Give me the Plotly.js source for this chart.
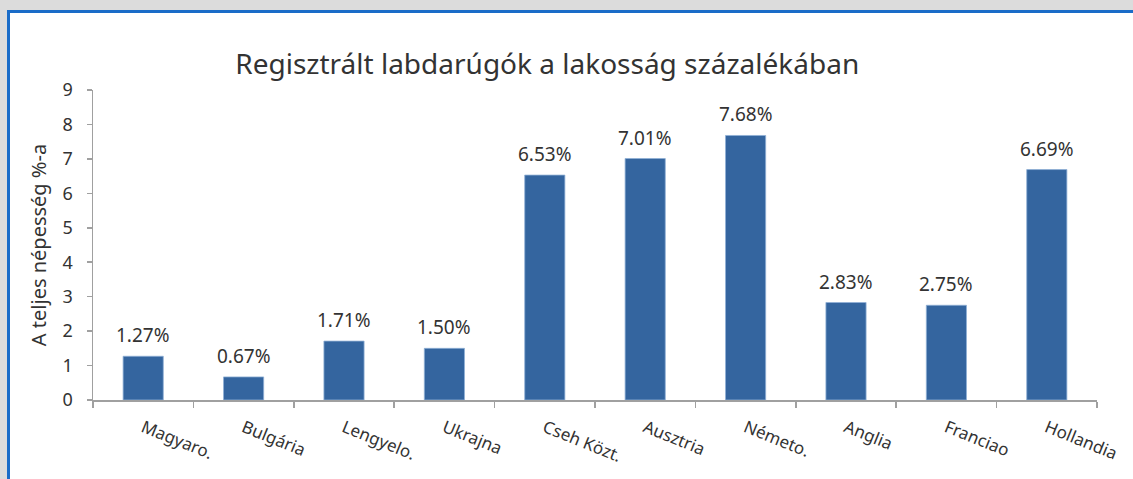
<!DOCTYPE html>
<html>
<head>
<meta charset="utf-8">
<script src="https://cdn.plot.ly/plotly-3.0.1.min.js"></script>
<style>
html,body{margin:0;padding:0;background:#dcdcdc;width:1133px;height:479px;overflow:hidden;}
#frame{position:absolute;left:7px;top:10px;width:1126px;height:469px;background:#fff;border-top:3px solid #1a6cc8;border-left:3px solid #1a6cc8;box-sizing:border-box;}
#chart{position:absolute;left:0;top:0;width:1133px;height:479px;}
</style>
</head>
<body>
<div id="frame"></div>
<div id="chart"></div>
<script>
const categories = ["Magyaro.", "Bulgária", "Lengyelo.", "Ukrajna", "Cseh Közt.", "Ausztria", "Németo.", "Anglia", "Franciao", "Hollandia"];
const values = [1.27, 0.67, 1.71, 1.50, 6.53, 7.01, 7.68, 2.83, 2.75, 6.69];
const valueLabels = values.map(v => v.toFixed(2) + "%");
const yTicks = [0, 1, 2, 3, 4, 5, 6, 7, 8, 9];

const font = "Noto Sans, Open Sans, sans-serif";
const trace = {
  type: "bar",
  x: categories,
  y: values,
  cliponaxis: false,
  marker: {color: "#34659f", line: {color: "#8fb0d6", width: 0.8}},
  hoverinfo: "x+y"
};
const annotations = categories.map((c, i) => ({
  x: c, y: values[i], xref: "x", yref: "y",
  text: valueLabels[i], showarrow: false,
  xanchor: "center", yanchor: "bottom", yshift: 6,
  font: {family: font, size: 19, color: "#333"}
}));
const layout = {
  width: 1133, height: 479,
  paper_bgcolor: "rgba(0,0,0,0)",
  plot_bgcolor: "rgba(0,0,0,0)",
  margin: {l: 93, r: 36, t: 90, b: 79},
  bargap: 0.6,
  showlegend: false,
  annotations: annotations,
  title: {text: "Regisztrált labdarúgók a lakosság százalékában", font: {family: font, size: 28, color: "#333"}, x: 0.483, xanchor: "center", y: 0.865, yanchor: "middle"},
  xaxis: {
    type: "category",
    tickangle: 22,
    tickson: "boundaries",
    ticks: "outside", ticklen: 6, tickcolor: "#a0a0a0", tickwidth: 1.5,
    showline: true, linecolor: "#a0a0a0", linewidth: 1.5,
    showgrid: false, zeroline: false,
    ticklabelstandoff: 10,
    tickfont: {family: font, size: 17, color: "#333"}
  },
  yaxis: {
    range: [0, 9],
    tickvals: yTicks,
    ticktext: yTicks.map(String),
    ticks: "outside", ticklen: 5, tickcolor: "#a0a0a0", tickwidth: 1.5,
    showline: true, linecolor: "#a0a0a0", linewidth: 1.5,
    showgrid: false, zeroline: false,
    ticklabelstandoff: 10,
    tickfont: {family: font, size: 18, color: "#333"},
    title: {text: "A teljes népesség %-a", font: {family: font, size: 20, color: "#333"}, standoff: 10}
  }
};
Plotly.newPlot("chart", [trace], layout, {displayModeBar: false, staticPlot: true});
</script>
</body>
</html>
